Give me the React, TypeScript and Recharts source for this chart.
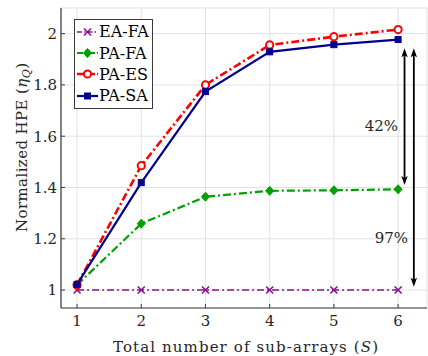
import React from 'react'
import {
  LineChart,
  Line,
  XAxis,
  YAxis,
  CartesianGrid,
  ReferenceLine,
  ReferenceDot,
} from 'recharts'

// values
const subArrays = [1, 2, 3, 4, 5, 6]
const eaFa = [1, 1, 1, 1, 1, 1]
const paFa = [1.02, 1.259, 1.364, 1.387, 1.389, 1.393]
const paEs = [1.02, 1.485, 1.8, 1.956, 1.988, 2.016]
const paSa = [1.022, 1.419, 1.774, 1.929, 1.957, 1.977]

const xTicks = [1, 2, 3, 4, 5, 6]
const yTicks = [1, 1.2, 1.4, 1.6, 1.8, 2]

// annotation arrows: [x, yTop, yBottom]
const gapArrows = [
  [6.1, 1.943, 1.41],
  [6.245, 1.943, 1.013],
]
const gapLabels = ['42%', '97%']
const gapLabelPos = [
  [6.0, 1.64],
  [6.156, 1.203],
]

const data = subArrays.map((s, i) => ({
  s,
  eaFa: eaFa[i],
  paFa: paFa[i],
  paEs: paEs[i],
  paSa: paSa[i],
}))

const FONT = 'DejaVu Serif'
const AXIS = '#3a3a3a'
const TEXT = '#262626'
const C = {
  eaFa: '#8a0f8f',
  paFa: '#00a000',
  paEs: '#ff0000',
  paSa: '#000090',
}

const crossDot = (p: any) => (
  <g key={p.index}>
    <line x1={p.cx - 3.5} y1={p.cy - 3.5} x2={p.cx + 3.5} y2={p.cy + 3.5} stroke={C.eaFa} strokeWidth={1.6} />
    <line x1={p.cx - 3.5} y1={p.cy + 3.5} x2={p.cx + 3.5} y2={p.cy - 3.5} stroke={C.eaFa} strokeWidth={1.6} />
  </g>
)
const diamondDot = (p: any) => (
  <polygon
    key={p.index}
    points={`${p.cx},${p.cy - 4.5} ${p.cx + 4},${p.cy} ${p.cx},${p.cy + 4.5} ${p.cx - 4},${p.cy}`}
    fill={C.paFa}
    stroke={C.paFa}
  />
)
const circleDot = (p: any) => (
  <circle key={p.index} cx={p.cx} cy={p.cy} r={3.6} fill="#fff" stroke={C.paEs} strokeWidth={2} />
)
const squareDot = (p: any) => (
  <rect key={p.index} x={p.cx - 3} y={p.cy - 3} width={6} height={6} fill={C.paSa} stroke={C.paSa} />
)

const legendItems = [
  { name: 'EA-FA', color: C.eaFa, dash: '5 2 1.5 2', width: 1.6, dot: crossDot },
  { name: 'PA-FA', color: C.paFa, dash: '6 2 2 2', width: 2, dot: diamondDot },
  { name: 'PA-ES', color: C.paEs, dash: '6 2 2 2', width: 2.4, dot: circleDot },
  { name: 'PA-SA', color: C.paSa, dash: undefined, width: 2.2, dot: squareDot },
]

function LegendBox() {
  return (
    <div
      style={{
        position: 'absolute',
        left: 74,
        top: 19,
        width: 77,
        height: 87,
        border: `1px solid ${AXIS}`,
        background: '#fff',
        fontFamily: FONT,
        fontSize: 16,
        color: '#000',
        paddingTop: 1,
        boxSizing: 'content-box',
      }}
    >
      {legendItems.map((it) => (
        <div key={it.name} style={{ display: 'flex', alignItems: 'center', height: 21.4 }}>
          <svg width={21} height={12} style={{ marginLeft: 2, marginRight: 1 }}>
            <line x1={0} y1={6} x2={21} y2={6} stroke={it.color} strokeWidth={it.width} strokeDasharray={it.dash} />
            {it.dot({ cx: 10.5, cy: 6, index: 0 })}
          </svg>
          <span style={{ lineHeight: '17px', whiteSpace: 'nowrap' }}>{it.name}</span>
        </div>
      ))}
    </div>
  )
}

const arrowShape = (p: any) => {
  const { x1, y1, x2, y2 } = p
  const top = Math.min(y1, y2)
  const bot = Math.max(y1, y2)
  return (
    <g>
      <line x1={x1} y1={top + 6} x2={x2} y2={bot - 6} stroke="#000" strokeWidth={1.8} />
      <polygon points={`${x1},${top} ${x1 - 3.2},${top + 9} ${x1},${top + 7} ${x1 + 3.2},${top + 9}`} fill="#000" />
      <polygon points={`${x1},${bot} ${x1 - 3.2},${bot - 9} ${x1},${bot - 7} ${x1 + 3.2},${bot - 9}`} fill="#000" />
    </g>
  )
}

const YLabel = () => (
  <text
    x={27}
    y={147.5}
    transform="rotate(-90, 27, 147.5)"
    textAnchor="middle"
    fontFamily={FONT}
    fontSize={15}
    fill={TEXT}
    textLength={169}
    lengthAdjust="spacing"
  >
    Normalized HPE (<tspan fontStyle="italic">η</tspan>
    <tspan fontStyle="italic" fontSize={11} dy={3}>Q</tspan>
    <tspan dy={-3}>)</tspan>
  </text>
)

const XLabel = () => (
  <text
    x={245.5}
    y={351.5}
    textAnchor="middle"
    fontFamily={FONT}
    fontSize={15}
    fill={TEXT}
    textLength={265}
    lengthAdjust="spacing"
  >
    Total number of sub-arrays (<tspan fontStyle="italic">S</tspan>)
  </text>
)

export default function App() {
  const tickStyle = { fill: TEXT, fontSize: 15, fontFamily: FONT }
  return (
    <div style={{ position: 'absolute', left: 0, top: 0, width: 428, height: 356, background: '#fff' }}>
      <LineChart width={428} height={356} data={data} margin={{ top: 8, right: 1, bottom: 0, left: 0 }}>
        <CartesianGrid stroke="#e3e3e3" strokeWidth={1} />
        <XAxis
          dataKey="s"
          type="number"
          domain={[0.75, 6.45]}
          ticks={xTicks}
          height={48}
          tick={tickStyle}
          tickSize={-4}
          tickMargin={11}
          tickLine={{ stroke: AXIS }}
          axisLine={{ stroke: AXIS, strokeWidth: 1.2 }}
          allowDataOverflow
          label={<XLabel />}
        />
        <XAxis
          xAxisId="top"
          orientation="top"
          dataKey="s"
          type="number"
          domain={[0.75, 6.45]}
          ticks={xTicks}
          height={0}
          tick={false}
          tickSize={-4}
          tickLine={{ stroke: AXIS }}
          axisLine={{ stroke: AXIS, strokeWidth: 1.2 }}
          allowDataOverflow
        />
        <YAxis
          type="number"
          domain={[0.93, 2.1]}
          ticks={yTicks}
          width={61}
          tick={tickStyle}
          tickSize={-4}
          tickMargin={8}
          tickLine={{ stroke: AXIS }}
          axisLine={{ stroke: AXIS, strokeWidth: 1.2 }}
          tickFormatter={(v: number) => String(Math.round(v * 10) / 10)}
          allowDataOverflow
          label={<YLabel />}
        />
        <YAxis
          yAxisId="right"
          orientation="right"
          type="number"
          domain={[0.93, 2.1]}
          ticks={yTicks}
          width={0}
          tick={false}
          tickSize={-4}
          tickLine={{ stroke: AXIS }}
          axisLine={{ stroke: AXIS, strokeWidth: 1.2 }}
          allowDataOverflow
        />
        <Line
          dataKey="eaFa"
          name="EA-FA"
          stroke={C.eaFa}
          strokeWidth={1.6}
          strokeDasharray="7 3 2 3"
          dot={crossDot}
          isAnimationActive={false}
        />
        <Line
          dataKey="paFa"
          name="PA-FA"
          stroke={C.paFa}
          strokeWidth={2.2}
          strokeDasharray="8 3 2 3"
          dot={diamondDot}
          isAnimationActive={false}
        />
        <Line
          dataKey="paEs"
          name="PA-ES"
          stroke={C.paEs}
          strokeWidth={2.6}
          strokeDasharray="8 3 2 3"
          dot={circleDot}
          isAnimationActive={false}
        />
        <Line
          dataKey="paSa"
          name="PA-SA"
          stroke={C.paSa}
          strokeWidth={2.2}
          dot={squareDot}
          isAnimationActive={false}
        />
        {gapArrows.map(([x, y1, y2], i) => (
          <ReferenceLine
            key={`arrow-${i}`}
            segment={[
              { x, y: y1 },
              { x, y: y2 },
            ]}
            shape={arrowShape}
            ifOverflow="visible"
          />
        ))}
        {gapLabels.map((t, i) => (
          <ReferenceDot
            key={t}
            x={gapLabelPos[i][0]}
            y={gapLabelPos[i][1]}
            r={1}
            ifOverflow="visible"
            shape={(p: any) => (
              <text
                x={p.cx}
                y={p.cy}
                textAnchor="end"
                dominantBaseline="central"
                fontFamily={FONT}
                fontSize={15}
                fill={TEXT}
              >
                {t}
              </text>
            )}
          />
        ))}
      </LineChart>
      <LegendBox />
    </div>
  )
}
